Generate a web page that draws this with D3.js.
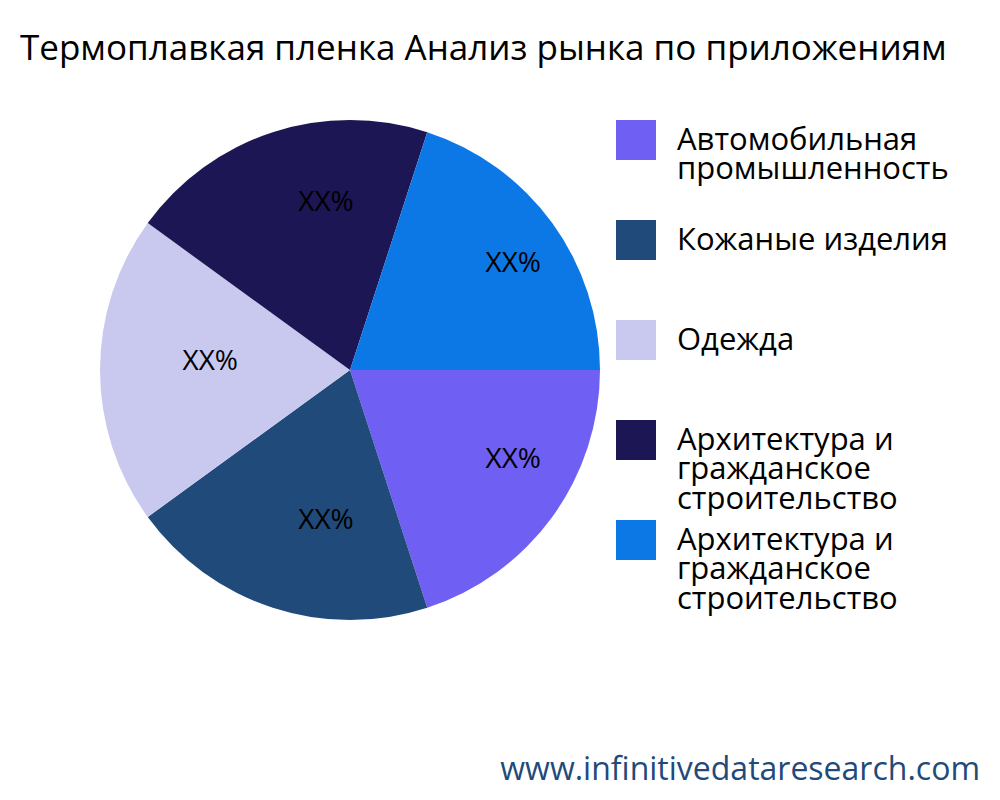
<!DOCTYPE html>
<html>
<head>
<meta charset="utf-8">
<script src="https://cdn.jsdelivr.net/npm/d3@7"></script>
<style>
  body { margin: 0; background: #fff; }
  text { font-family: "Open Sans", "Noto Sans", sans-serif; }
</style>
</head>
<body>
<div id="chart"></div>
<script>
// chart data
const categories = ["Автомобильная промышленность", "Кожаные изделия", "Одежда",
    "Архитектура и гражданское строительство", "Архитектура и гражданское строительство"];
const legendLines = [["Автомобильная", "промышленность"], ["Кожаные изделия"], ["Одежда"],
    ["Архитектура и", "гражданское", "строительство"], ["Архитектура и", "гражданское", "строительство"]];
const values = [20, 20, 20, 20, 20];
const labels = ["XX%", "XX%", "XX%", "XX%", "XX%"];
const colors = ["#6f60f3", "#1f4a7a", "#c9c9f0", "#1c1654", "#0b78e6"];

const width = 1000, height = 800;
const cx = 350, cy = 370, radius = 250;

const svg = d3.select("#chart").append("svg")
    .attr("width", width).attr("height", height);

svg.append("text")
    .attr("x", 20).attr("y", 60)
    .attr("font-size", 35)
    .text("Термоплавкая пленка Анализ рынка по приложениям");

const pie = d3.pie().sort(null)
    .startAngle(Math.PI / 2).endAngle(Math.PI / 2 + 2 * Math.PI)
    .value(d => d);
const arc = d3.arc().innerRadius(0).outerRadius(radius);
const labelArc = d3.arc().innerRadius(radius * 0.67).outerRadius(radius * 0.67);

const g = svg.append("g").attr("transform", `translate(${cx},${cy})`);
const arcs = pie(values);

g.selectAll("path").data(arcs).enter().append("path")
    .attr("d", arc)
    .attr("fill", (d, i) => colors[i]);

g.selectAll("text.lbl").data(arcs).enter().append("text")
    .attr("class", "lbl")
    .attr("transform", d => `translate(${labelArc.centroid(d)})`)
    .attr("text-anchor", "start")
    .attr("font-size", 28)
    .text((d, i) => labels[i]);

// legend
const legend = svg.append("g").attr("transform", "translate(616,120)");
const item = legend.selectAll("g").data(categories).enter().append("g")
    .attr("transform", (d, i) => `translate(0,${i * 100})`);
item.append("rect")
    .attr("width", 40).attr("height", 40)
    .attr("fill", (d, i) => colors[i]);
item.append("text")
    .attr("x", 61).attr("y", 30)
    .attr("font-size", 31)
    .each(function (d, i) {
        d3.select(this).selectAll("tspan").data(legendLines[i]).enter().append("tspan")
            .attr("x", 61).attr("dy", (t, j) => j === 0 ? 0 : "0.95em")
            .text(t => t);
    });

svg.append("text")
    .attr("x", 980).attr("y", 780)
    .attr("text-anchor", "end")
    .attr("font-size", 32)
    .attr("fill", "#1f4a7a")
    .text("www.infinitivedataresearch.com");
</script>
</body>
</html>
